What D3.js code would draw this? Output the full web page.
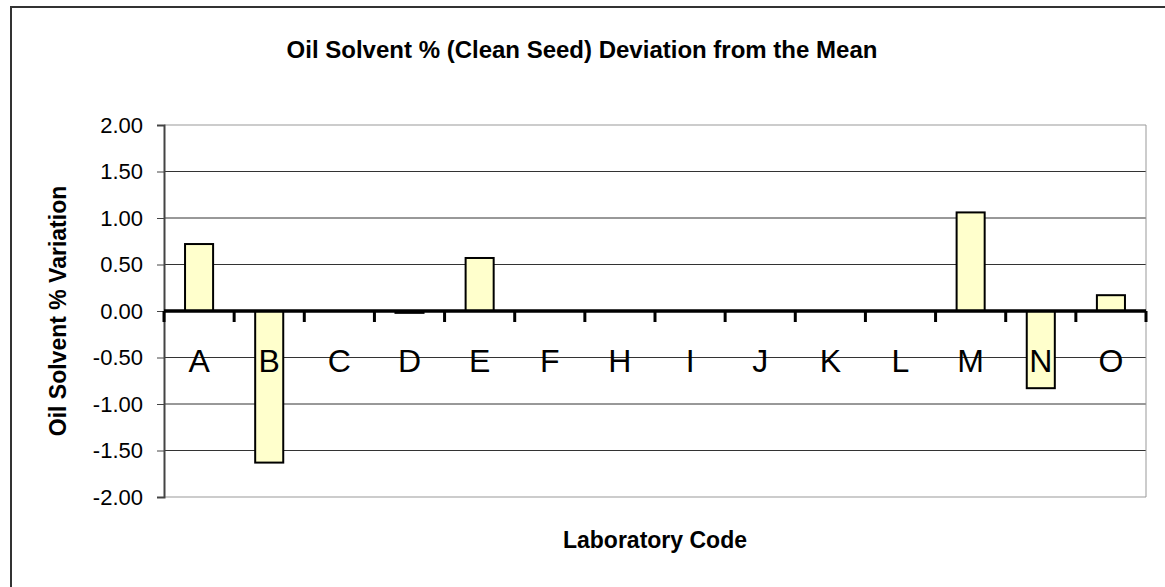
<!DOCTYPE html>
<html>
<head>
<meta charset="utf-8">
<script src="https://cdn.jsdelivr.net/npm/d3@7"></script>
<style>
  body { margin: 0; background: #fff; }
  svg text { font-family: Arial, "Liberation Sans", sans-serif; fill: #000; }
</style>
</head>
<body>
<div id="chart"></div>
<script>
// laboratory codes and deviation from the mean
const labs = ['A', 'B', 'C', 'D', 'E', 'F', 'H', 'I', 'J', 'K', 'L', 'M', 'N', 'O'];
const deviation = [0.72, -1.63, 0, -0.02, 0.57, 0, 0, 0, 0, 0, 0, 1.06, -0.83, 0.17];
const yTicks = [-2, -1.5, -1, -0.5, 0, 0.5, 1, 1.5, 2];

const W = 1165, H = 587;
const margin = { top: 125, right: 19, bottom: 90, left: 164 };
const width = W - margin.left - margin.right;
const height = H - margin.top - margin.bottom;

const svg = d3.select('#chart')
    .append('svg')
    .attr('width', W)
    .attr('height', H);

// outer chart frame (runs off the right and bottom edge)
svg.append('rect')
    .attr('x', 11).attr('y', 7)
    .attr('width', W + 20).attr('height', H + 20)
    .attr('fill', '#fff')
    .attr('stroke', '#333')
    .attr('stroke-width', 2);

const g = svg.append('g')
    .attr('transform', `translate(${margin.left},${margin.top})`);

const x = d3.scaleBand().domain(labs).range([0, width]).paddingInner(0).paddingOuter(0);
const y = d3.scaleLinear().domain([-2, 2]).range([height, 0]);

// gridlines
g.selectAll('.grid')
    .data(yTicks)
    .enter()
    .append('line')
    .attr('x1', 0).attr('x2', width)
    .attr('y1', d => y(d)).attr('y2', d => y(d))
    .attr('stroke', d => (d === 2 || d === -2) ? '#999' : '#333')
    .attr('stroke-width', 1);

// plot area right border
g.append('line')
    .attr('x1', width).attr('x2', width)
    .attr('y1', 0).attr('y2', height)
    .attr('stroke', '#999');

// y axis (plain hyphen for negatives, like the original)
const fmt = d => d3.format('.2f')(d).replace('\u2212', '-');
const yAxis = g.append('g')
    .call(d3.axisLeft(y).tickValues(yTicks).tickFormat(fmt).tickSize(7).tickPadding(14));
yAxis.select('.domain').attr('stroke', '#444').attr('stroke-width', 2);
yAxis.selectAll('.tick line').attr('stroke', '#444');
yAxis.selectAll('text')
    .style('font-size', '22px')
    .style('font-family', 'Arial, "Liberation Sans", sans-serif');

// bars
const barW = x.bandwidth() * 0.4;
g.selectAll('.bar')
    .data(labs.map((lab, i) => ({ lab, value: deviation[i] })))
    .enter()
    .append('rect')
    .attr('x', d => x(d.lab) + (x.bandwidth() - barW) / 2)
    .attr('y', d => y(Math.max(0, d.value)))
    .attr('width', barW)
    .attr('height', d => Math.abs(y(d.value) - y(0)))
    .attr('fill', '#ffffcc')
    .attr('stroke', '#000')
    .attr('stroke-width', 2);

// zero axis with ticks between categories
const boundaries = labs.map(l => x(l)).concat([width]);
g.append('line')
    .attr('x1', 0).attr('x2', width)
    .attr('y1', y(0)).attr('y2', y(0))
    .attr('stroke', '#000')
    .attr('stroke-width', 3.5);
g.selectAll('.xtick')
    .data(boundaries)
    .enter()
    .append('line')
    .attr('x1', d => d).attr('x2', d => d)
    .attr('y1', y(0)).attr('y2', y(0) + 11)
    .attr('stroke', '#000')
    .attr('stroke-width', 3);

// category labels
g.selectAll('.xlabel')
    .data(labs)
    .enter()
    .append('text')
    .attr('x', d => x(d) + x.bandwidth() / 2)
    .attr('y', y(0) + 61)
    .attr('text-anchor', 'middle')
    .style('font-size', '32px')
    .text(d => d);

// title
svg.append('text')
    .attr('x', 582)
    .attr('y', 58)
    .attr('text-anchor', 'middle')
    .style('font-size', '24px')
    .style('font-weight', 'bold')
    .text('Oil Solvent % (Clean Seed) Deviation from the Mean');

// y axis title
svg.append('text')
    .attr('transform', `translate(66,${margin.top + height / 2}) rotate(-90)`)
    .attr('text-anchor', 'middle')
    .style('font-size', '23px')
    .style('font-weight', 'bold')
    .text('Oil Solvent % Variation');

// x axis title
svg.append('text')
    .attr('x', margin.left + width / 2)
    .attr('y', 548)
    .attr('text-anchor', 'middle')
    .style('font-size', '23px')
    .style('font-weight', 'bold')
    .text('Laboratory Code');
</script>
</body>
</html>
